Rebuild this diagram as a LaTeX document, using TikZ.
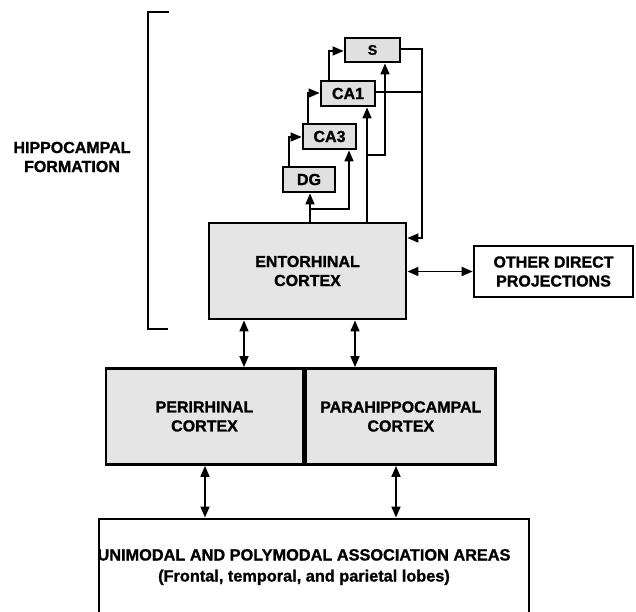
\documentclass[tikz,border=0pt]{standalone}
\usepackage{fontspec}
\setmainfont{Liberation Sans}[BoldFeatures={FakeBold=1.2}]
\usetikzlibrary{arrows.meta}
\begin{document}
\begin{tikzpicture}[x=1pt,y=-1pt,
  lbl/.style={font=\bfseries\fontsize{16}{19}\selectfont, align=center, inner sep=0pt},
  hbox/.style={draw, line width=2.8pt, fill=black!12, inner sep=0pt, font=\bfseries\fontsize{16}{19}\selectfont},
  bigbox/.style={draw, line width=2.8pt, fill=black!10, inner sep=0pt, align=center, font=\bfseries\fontsize{16}{19}\selectfont},
  plainbox/.style={draw, line width=2.6pt, fill=white, inner sep=0pt, align=center, font=\bfseries\fontsize{16}{19}\selectfont},
  conn/.style={line width=1.6pt, -{Triangle[length=11pt,width=9pt]}},
  line/.style={line width=1.6pt},
  dbl/.style={line width=1.6pt, {Triangle[length=11pt,width=9pt]}-{Triangle[length=11pt,width=9pt]}}
]
\useasboundingbox (0,0) rectangle (636,611);

% bracket
\coordinate (bt) at (169,12);
\coordinate (bb) at (168,329);
\draw[line width=1.5pt] (bt) -- (148,12) -- (148,329) -- (bb);
\node[lbl] (HF) at (72,157) {HIPPOCAMPAL\\FORMATION};

% hippocampal boxes
\node[hbox, minimum width=55pt, minimum height=24pt, font=\bfseries\fontsize{14}{16}\selectfont] (S) at (372.5,50) {S};
\node[hbox, minimum width=54pt, minimum height=25pt] (CA1) at (348,93.5) {CA1};
\node[hbox, minimum width=53pt, minimum height=25pt] (CA3) at (329.5,136.5) {CA3};
\node[hbox, minimum width=52pt, minimum height=25pt] (DG) at (309,179.5) {DG};

\node[bigbox, minimum width=197pt, minimum height=96pt] (EC) at (307.5,271) {ENTORHINAL\\CORTEX};
\node[plainbox, minimum width=159pt, minimum height=51pt] (OD) at (553.5,271.5) {OTHER DIRECT\\PROJECTIONS};

\node[bigbox, minimum width=197pt, minimum height=96pt] (PR) at (204.5,416.5) {PERIRHINAL\\CORTEX};
\node[bigbox, minimum width=190pt, minimum height=96pt, anchor=west] (PH) at (PR.east) {PARAHIPPOCAMPAL\\CORTEX};

\node[draw, line width=2.2pt, fill=white, inner sep=0pt, minimum width=430pt, minimum height=110pt, anchor=north west] (UA) at (97.5,517.5) {};
\node[lbl, font=\bfseries\fontsize{16.3}{21}\selectfont] (UAt) at (304,567) {UNIMODAL AND POLYMODAL ASSOCIATION AREAS\\(Frontal, temporal, and parietal lobes)};

% connector coordinates
\coordinate (ecDG) at (310,222);
\coordinate (b1) at (349,209);
\coordinate (ecCA1) at (367,222);
\coordinate (b2) at (385,155);
\coordinate (c1) at (289,137);
\coordinate (c2) at (308,93);
\coordinate (c3) at (329,51);
\coordinate (r1) at (422,49);
\coordinate (r2) at (422,238);

% EC -> DG, CA3
\draw[conn] (ecDG) -- (ecDG |- DG.south);
\draw[conn] (ecDG |- b1) -- (b1) -- (b1 |- CA3.south);
% EC -> CA1, S
\draw[conn] (ecCA1) -- (ecCA1 |- CA1.south);
\draw[conn] (ecCA1 |- b2) -- (b2) -- (b2 |- S.south);
% trisynaptic
\draw[conn] (c1 |- DG.north) -- (c1) -- (c1 -| CA3.west);
\draw[conn] (c2 |- CA3.north) -- (c2) -- (c2 -| CA1.west);
\draw[conn] (c3 |- CA1.north) -- (c3) -- (c3 -| S.west);
% back projections
\draw[conn] (S.east |- r1) -- (r1) -- (r2) -- (r2 -| EC.east);
\draw[line] (CA1.east |- 0,92) -- (422,92);

% EC <-> other
\draw[dbl] (EC.east |- OD.west) -- (OD.west);
% EC <-> PR, PH
\draw[dbl] (EC.south -| 244,0) -- (PR.north -| 244,0);
\draw[dbl] (EC.south -| 355,0) -- (PH.north -| 355,0);
% PR, PH <-> association
\draw[dbl] (PR.south -| 205,0) -- (UA.north -| 205,0);
\draw[dbl] (PH.south -| 396,0) -- (UA.north -| 396,0);
\end{tikzpicture}
\end{document}
